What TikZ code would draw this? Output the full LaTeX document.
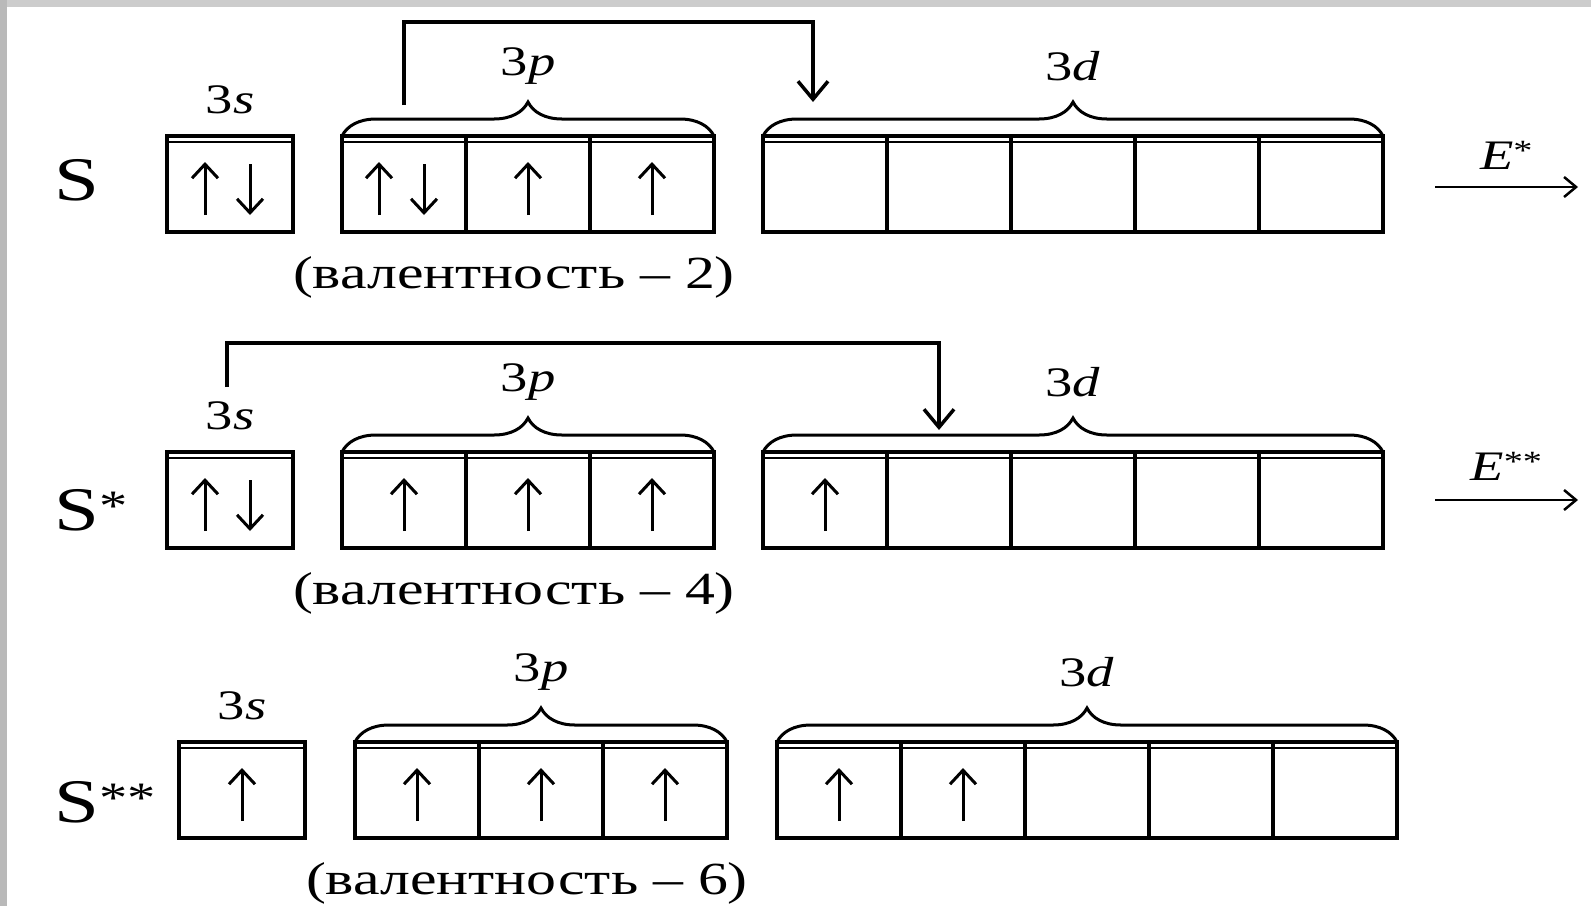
\documentclass[tikz,border=0pt]{standalone}
\usepackage{fontspec}
\setmainfont{Liberation Serif}[FakeStretch=1.3]
\usetikzlibrary{arrows.meta, positioning, calc, decorations.pathreplacing}

\begin{document}
\begin{tikzpicture}[x=1pt, y=-1pt,
    cell/.style={draw, line width=3.5pt, minimum width=124pt, minimum height=96pt,
        inner sep=0pt, outer sep=0pt, anchor=north west},
    sbox/.style={cell, minimum width=126pt},
    grp/.style={decorate, decoration={brace, amplitude=34pt}, line width=3pt},
    spin/.style={line width=3pt, -{Straight Barb[length=14pt, width=26pt]}},
    jump/.style={line width=3.5pt, -{Straight Barb[length=18pt, width=30pt]}},
    earrow/.style={line width=2.5pt, -{Straight Barb[length=12pt, width=20pt]}},
    orb/.style={font=\fontsize{42}{46}\selectfont},
    val/.style={font=\fontsize{46}{50}\selectfont},
    atom/.style={font=\fontsize{62}{66}\selectfont, anchor=base west, inner sep=0pt}]

  % frame
  \useasboundingbox (0,0) rectangle (1591,906);
  \fill[white] (0,0) rectangle (1591,906);
  \fill[gray!40] (0,0) rectangle (1591,7);
  \fill[gray!55] (0,0) rectangle (7,906);

  % orbital cells of S, S*, S**
  \foreach \r/\xs/\xp/\xd/\t/\n in {1/167/342/763/136/2, 2/167/342/763/452/4, 3/179/355/777/742/6} {
    \node[sbox] (s\r) at (\xs,\t) {};
    \node[cell] (p\r-1) at (\xp,\t) {};
    \foreach \i [count=\j] in {2,3}
      \node[cell, right=0pt of p\r-\j] (p\r-\i) {};
    \node[cell] (d\r-1) at (\xd,\t) {};
    \foreach \i [count=\j] in {2,...,5}
      \node[cell, right=0pt of d\r-\j] (d\r-\i) {};
    % second line under the top edge
    \draw[line width=2pt] ([yshift=-6pt]s\r.north west) -- ([yshift=-6pt]s\r.north east);
    \draw[line width=2pt] ([yshift=-6pt]p\r-1.north west) -- ([yshift=-6pt]p\r-3.north east);
    \draw[line width=2pt] ([yshift=-6pt]d\r-1.north west) -- ([yshift=-6pt]d\r-5.north east);
    % braces and sublevel names
    \draw[grp] (p\r-1.north west) -- (p\r-3.north east);
    \draw[grp] (d\r-1.north west) -- (d\r-5.north east);
    \node[orb] (ls\r) at ([yshift=36pt]s\r.north) {3\textit{s}};
    \node[orb] (lp\r) at ([yshift=70pt]p\r-2.north) {3\textit{p}};
    \node[orb] (ld\r) at ([yshift=70pt]d\r-3.north) {3\textit{d}};
    \node[val] (v\r) at ([xshift=-14pt, yshift=-45pt]p\r-2.south) {(валентность – \n)};
  }

  \node[atom] (a1) at (54,200) {S};
  \node[atom] (a2) at (54,530) {S\textsuperscript{*}};
  \node[atom] (a3) at (54,822) {S\textsuperscript{**}};

  % electrons
  \foreach \c in {s1, p1-1, s2} {
    \draw[spin] ([xshift=-25pt, yshift=-31pt]\c.center) -- ([xshift=-25pt, yshift=22pt]\c.center);
    \draw[spin] ([xshift=20pt, yshift=20pt]\c.center) -- ([xshift=20pt, yshift=-31pt]\c.center);
  }
  \foreach \c in {p1-2, p1-3, p2-1, p2-2, p2-3, d2-1, s3, p3-1, p3-2, p3-3, d3-1, d3-2}
    \draw[spin] ([yshift=-31pt]\c.center) -- ([yshift=22pt]\c.center);

  % excitation jumps
  \coordinate (top1) at (0,22);
  \coordinate (j1a) at ([yshift=31pt]p1-1.north);
  \coordinate (j1b) at ([xshift=-12pt, yshift=34pt]d1-1.north);
  \draw[jump] (j1a) -- (j1a |- top1) -| (j1b);

  \coordinate (top2) at (0,343);
  \coordinate (j2a) at ([xshift=-3pt, yshift=65pt]s2.north);
  \coordinate (j2b) at ([xshift=-10pt, yshift=22pt]d2-2.north);
  \draw[jump] (j2a) -- (j2a |- top2) -| (j2b);

  % energy arrows
  \coordinate (e1a) at (1435,187);
  \coordinate (e1b) at (1578,187);
  \draw[earrow] (e1a) -- (e1b) node[orb, midway, above=16pt, inner sep=0pt] (e1) {\textit{E}\textsuperscript{*}};
  \coordinate (e2a) at (1435,500);
  \coordinate (e2b) at (1578,500);
  \draw[earrow] (e2a) -- (e2b) node[orb, midway, above=18pt, inner sep=0pt] (e2) {\textit{E}\textsuperscript{**}};
\end{tikzpicture}
\end{document}
